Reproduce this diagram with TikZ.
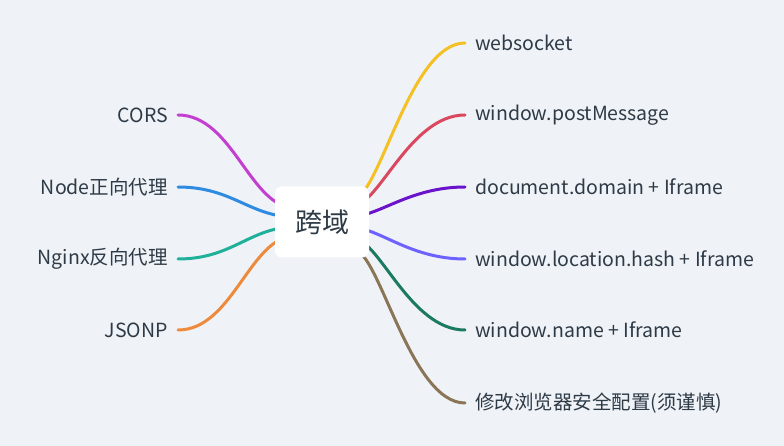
\documentclass[tikz,border=0pt]{standalone}
\usepackage{fontspec}
\setmainfont{Noto Sans CJK SC}
\usetikzlibrary{positioning,backgrounds}

\definecolor{paper}{HTML}{EFF3F7}
\definecolor{ink}{HTML}{2E3A46}
\definecolor{cors}{HTML}{C23FD0}
\definecolor{nodep}{HTML}{2F8BE0}
\definecolor{nginx}{HTML}{1FB09A}
\definecolor{jsonp}{HTML}{EE8A3C}
\definecolor{wsock}{HTML}{F5C023}
\definecolor{postmsg}{HTML}{D9485E}
\definecolor{docdom}{HTML}{6A12CC}
\definecolor{lochash}{HTML}{6E62FF}
\definecolor{winname}{HTML}{1D7A62}
\definecolor{browser}{HTML}{8A7556}

\begin{document}
\begin{tikzpicture}[x=1pt,y=-1pt,
	leaf/.style={inner xsep=10pt,inner ysep=2pt,text=ink,font=\fontsize{19.5}{22}\selectfont},
	branch/.style={line width=3pt,line cap=round}]
	\useasboundingbox (0,0) rectangle (784,446);
	\node[fill=white,rounded corners=7pt,minimum width=94pt,minimum height=71pt,
		text=ink,font=\fontsize{27}{30}\selectfont] (root) at (322,222) {跨域};
	% left side
	\node[leaf,anchor=east] (cors) at (178,115) {CORS};
	\node[leaf,anchor=east] (node) at (178,187) {Node正向代理};
	\node[leaf,anchor=east] (nginx) at (178,259) {Nginx反向代理};
	\node[leaf,anchor=east] (jsonp) at (178,330) {JSONP};
	% right side
	\node[leaf,anchor=west] (ws) at (465,43) {websocket};
	\node[leaf,anchor=west] (pm) at (465,115) {window.postMessage};
	\node[leaf,anchor=west] (dd) at (465,187) {document.domain + Iframe};
	\node[leaf,anchor=west] (lh) at (465,259) {window.location.hash + Iframe};
	\node[leaf,anchor=west] (wn) at (465,330) {window.name + Iframe};
	\node[leaf,anchor=west] (bc) at (465,403) {修改浏览器安全配置(须谨慎)};
	\begin{scope}[on background layer]
		\fill[paper] (0,0) rectangle (784,446);
		\draw[branch,cors] (cors.east) .. controls +(55,0) and +(-45,0) .. ([shift={(-27,-14)}]root.center);
		\draw[branch,nodep] (node.east) .. controls +(55,0) and +(-45,0) .. ([shift={(-27,-5)}]root.center);
		\draw[branch,nginx] (nginx.east) .. controls +(55,0) and +(-45,0) .. ([shift={(-27,5)}]root.center);
		\draw[branch,jsonp] (jsonp.east) .. controls +(55,0) and +(-45,0) .. ([shift={(-27,14)}]root.center);
		\draw[branch,wsock] (ws.west) .. controls +(-55,0) and +(25,0) .. ([shift={(32,-24)}]root.center);
		\draw[branch,postmsg] (pm.west) .. controls +(-55,0) and +(25,0) .. ([shift={(32,-17)}]root.center);
		\draw[branch,docdom] (dd.west) .. controls +(-55,0) and +(25,0) .. ([shift={(32,-6)}]root.center);
		\draw[branch,lochash] (lh.west) .. controls +(-55,0) and +(25,0) .. ([shift={(32,6)}]root.center);
		\draw[branch,winname] (wn.west) .. controls +(-55,0) and +(25,0) .. ([shift={(32,17)}]root.center);
		\draw[branch,browser] (bc.west) .. controls +(-55,0) and +(25,0) .. ([shift={(32,28)}]root.center);
	\end{scope}
\end{tikzpicture}
\end{document}
